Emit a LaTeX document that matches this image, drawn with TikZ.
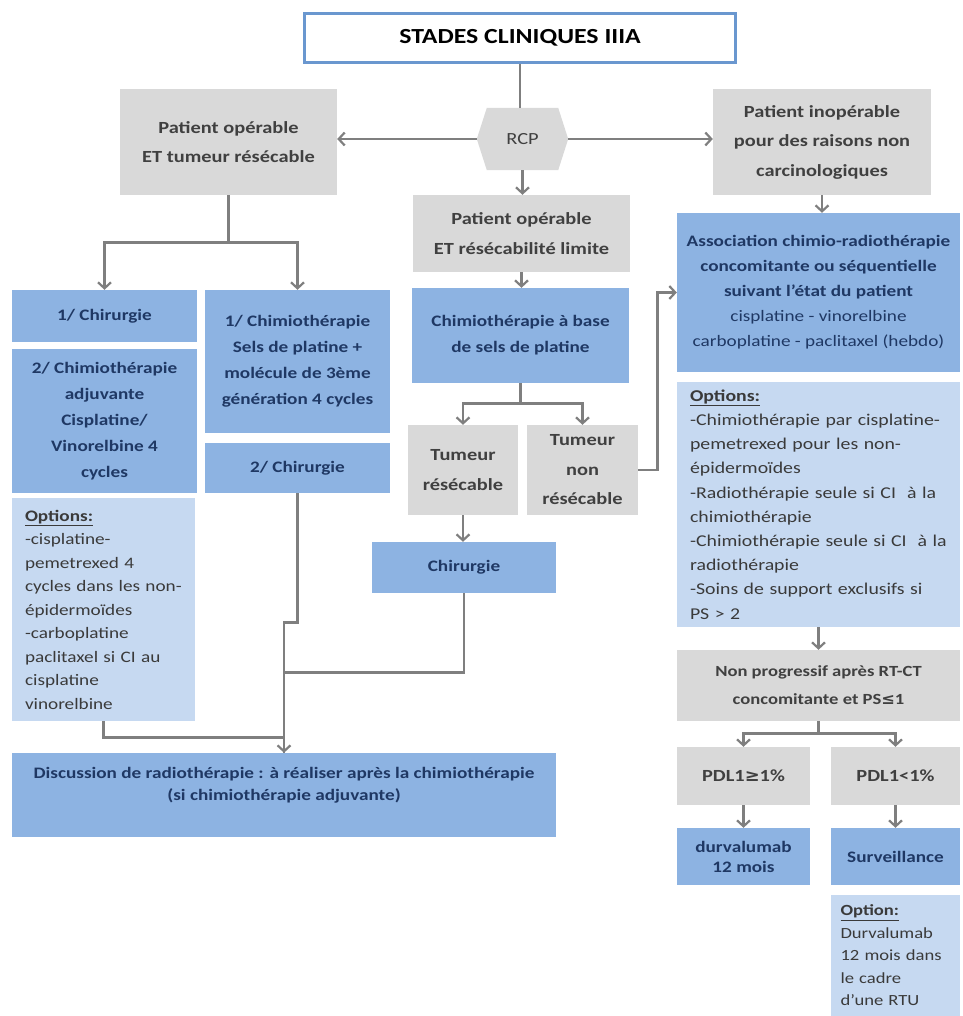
\documentclass[tikz,border=0pt]{standalone}
\usepackage{fontspec}
\setmainfont[FakeStretch=1.2]{Carlito}
\newfontfamily\symfont[FakeStretch=1.05]{DejaVu Sans}
\usetikzlibrary{arrows.meta,calc,backgrounds}

\definecolor{grayfill}{HTML}{D9D9D9}
\definecolor{bluefill}{HTML}{8DB3E2}
\definecolor{lightfill}{HTML}{C6D9F1}
\definecolor{titleblue}{HTML}{6A97CF}
\definecolor{linegray}{HTML}{7F7F7F}
\definecolor{graytext}{HTML}{404040}
\definecolor{navy}{HTML}{1F3864}
\definecolor{opttext}{HTML}{3A3A3A}

\begin{document}
\begin{tikzpicture}[x=1pt,y=-1pt,
  box/.style={rectangle, inner sep=0pt, align=center},
  titlebox/.style={box, draw=titleblue, line width=3pt, fill=white, text=black,
    font=\fontsize{21.5}{25}\selectfont\bfseries},
  gbox/.style={box, fill=grayfill, text=graytext, font=\fontsize{17}{29.5}\selectfont\bfseries},
  bbox/.style={box, fill=bluefill, text=navy, font=\fontsize{16}{26}\selectfont\bfseries},
  obox/.style={box, fill=lightfill, text=opttext, align=left, inner ysep=0pt,
    font=\fontsize{16}{23.5}\selectfont},
  conn/.style={draw=linegray, line width=2.6pt},
  arr/.style={conn, -{Straight Barb[length=6pt,width=13pt,line width=2.2pt]}}]

\useasboundingbox (0,0) rectangle (962,1016);

% ---- top: stage title and RCP ----
\node[titlebox, minimum width=431pt, minimum height=49pt] (title) at (520,38) {STADES CLINIQUES IIIA};
\node[box, minimum width=91pt, minimum height=62pt, text=graytext,
      font=\fontsize{17}{20}\selectfont] (rcp) at (522.5,139) {RCP};
\begin{scope}[on background layer]
  \fill[grayfill] (rcp.west) -- ($(rcp.north west)+(10,0)$) -- ($(rcp.north east)+(-10,0)$)
    -- (rcp.east) -- ($(rcp.south east)+(-10,0)$) -- ($(rcp.south west)+(10,0)$) -- cycle;
\end{scope}

\node[gbox, minimum width=217pt, minimum height=106pt] (pg) at (228.5,142) {Patient opérable\\ET tumeur résécable};
\node[gbox, minimum width=218pt, minimum height=106pt] (pi) at (822,142) {Patient inopérable\\pour des raisons non\\carcinologiques};
\node[gbox, minimum width=217pt, minimum height=77pt] (pm) at (521.5,233.5) {Patient opérable\\ET résécabilité limite};

% ---- left branch: surgery first / chemotherapy first ----
\node[bbox, minimum width=185pt, minimum height=52pt] (c1) at (104.5,316) {1/ Chirurgie};
\node[bbox, minimum width=185pt, minimum height=144pt] (c2) at (104.5,421)
  {2/ Chimiothérapie\\adjuvante\\Cisplatine/\\Vinorelbine 4\\cycles};
\node[obox, text width=157pt, inner xsep=13pt, minimum height=223pt] (lopt) at (103.5,609.5)
  {\textbf{\underline{Options:}}\\-cisplatine-\\pemetrexed 4\\cycles dans les non-\\épidermoïdes\\-carboplatine\\paclitaxel si CI au\\cisplatine\\vinorelbine};
\node[bbox, minimum width=185pt, minimum height=143pt] (m1) at (297.5,361.5)
  {1/ Chimiothérapie\\Sels de platine +\\molécule de 3ème\\génération 4 cycles};
\node[bbox, minimum width=185pt, minimum height=50pt] (m2) at (297.5,468) {2/ Chirurgie};

% ---- middle branch: borderline resectability ----
\node[bbox, minimum width=217pt, minimum height=95pt] (chim) at (520.5,335.5) {Chimiothérapie à base\\de sels de platine};
\node[gbox, minimum width=110pt, minimum height=90pt] (tr) at (463,470) {Tumeur\\résécable};
\node[gbox, minimum width=111pt, minimum height=90pt] (tn) at (582.5,470) {Tumeur\\non\\résécable};
\node[bbox, minimum width=184pt, minimum height=51pt] (chir) at (464,567.5) {Chirurgie};

\node[bbox, minimum width=544pt, minimum height=84pt, font=\fontsize{16}{22}\selectfont\bfseries] (disc) at (284,795)
  {Discussion de radiothérapie : à réaliser après la chimiothérapie\\(si chimiothérapie adjuvante)\rule[-22pt]{0pt}{22pt}};

% ---- right branch: inoperable patients ----
\node[bbox, minimum width=283pt, minimum height=159pt, font=\fontsize{16}{25}\selectfont\bfseries] (assoc) at (818.5,292.5)
  {Association chimio-radiothérapie\\concomitante ou séquentielle\\suivant l’état du patient\\{\mdseries cisplatine - vinorelbine}\\{\mdseries carboplatine - paclitaxel (hebdo)}};
\node[obox, text width=257pt, inner xsep=13pt, minimum height=245pt, font=\fontsize{16.5}{24.2}\selectfont] (ropt) at (818.5,504.5)
  {\textbf{\underline{Options:}}\\-Chimiothérapie par cisplatine-\\pemetrexed pour les non-\\épidermoïdes\\-Radiothérapie seule si CI\ \ à la\\chimiothérapie\\-Chimiothérapie seule si CI\ \ à la\\radiothérapie\\-Soins de support exclusifs si\\PS > 2};
\node[gbox, minimum width=283pt, minimum height=71pt, font=\fontsize{15.5}{28}\selectfont\bfseries] (np) at (818.5,685.5)
  {Non progressif après RT-CT\\concomitante et PS{\symfont ≤}1};
\node[gbox, minimum width=133pt, minimum height=58pt] (pdlp) at (743.5,776) {PDL1{\symfont ≥}1\%};
\node[gbox, minimum width=129pt, minimum height=58pt] (pdln) at (895.5,776) {PDL1<1\%};
\node[bbox, minimum width=133pt, minimum height=57pt, font=\fontsize{16}{20}\selectfont\bfseries] (durva) at (743.5,856.5) {durvalumab\\12 mois};
\node[bbox, minimum width=129pt, minimum height=57pt] (surv) at (895.5,856.5) {Surveillance};
\node[obox, text width=110pt, inner xsep=9.5pt, minimum height=121pt, font=\fontsize{15.5}{22.5}\selectfont] (opt2) at (895.5,955.5)
  {\textbf{\underline{Option:}}\\Durvalumab\\12 mois dans\\le cadre\\d’une RTU};

% ---- connectors ----
\draw[conn] (title.south) -- (title.south |- rcp.north);
\draw[arr] (rcp.west) -- (rcp.west -| pg.east);
\draw[arr] (rcp.east) -- (rcp.east -| pi.west);
\draw[arr] (rcp.south) -- (rcp.south |- pm.north);

\draw[arr] (pg.south) -- ++(0,47) -| (c1.north);
\draw[arr] (pg.south) -- ++(0,47) -| (m1.north);

\draw[arr] (pm.south) -- (pm.south |- chim.north);
\draw[arr] (chim.south) -- ++(0,20) -| (tr.north);
\draw[arr] (chim.south) -- ++(0,20) -| (tn.north);
\draw[arr] (tn.east) -- ++(19,0) |- (assoc.west);
\draw[arr] (tr.south) -- (tr.south |- chir.north);

\draw[conn] (chir.south) -- ++(0,79) -| (disc.north);
\draw[conn] (lopt.south) -- ++(0,16) -| (disc.north);
\draw[arr] (m2.south) -- ++(0,129) -| (disc.north);

\draw[arr] (pi.south) -- (pi.south |- assoc.north);
\draw[arr] (ropt.south) -- (ropt.south |- np.north);
\draw[arr] (np.south) -- ++(0,12) -| (pdlp.north);
\draw[arr] (np.south) -- ++(0,12) -| (pdln.north);
\draw[arr] (pdlp) -- (durva);
\draw[arr] (pdln) -- (surv);

\end{tikzpicture}
\end{document}
